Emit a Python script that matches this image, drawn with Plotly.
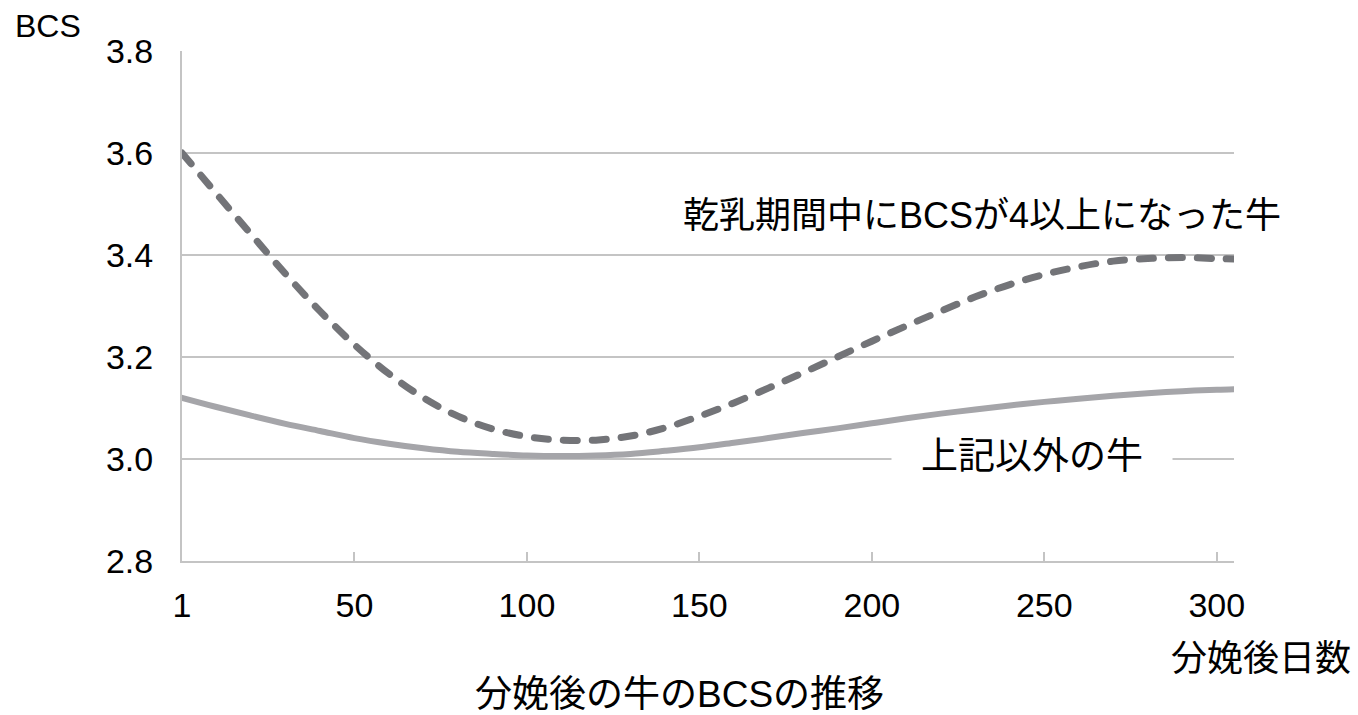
import plotly.graph_objects as go

# Days after calving (first tick is day 1)
days = [0, 10, 20, 30, 40, 50, 60, 70, 80, 90, 100, 110, 120, 130, 140, 150,
        160, 170, 180, 190, 200, 210, 220, 230, 240, 250, 260, 270, 280, 290, 300, 305]

# Cows whose BCS reached 4 or more during the dry period
bcs_high_dry = [3.600, 3.520, 3.441, 3.363, 3.290, 3.224, 3.167, 3.120, 3.084, 3.059,
                3.044, 3.037, 3.037, 3.045, 3.061, 3.084, 3.110, 3.139, 3.169, 3.200,
                3.231, 3.261, 3.290, 3.318, 3.342, 3.362, 3.377, 3.388, 3.393, 3.395,
                3.393, 3.392]

# All other cows
bcs_other = [3.120, 3.102, 3.085, 3.069, 3.055, 3.041, 3.030, 3.021, 3.014, 3.010,
             3.007, 3.006, 3.007, 3.010, 3.016, 3.023, 3.032, 3.041, 3.051, 3.060,
             3.070, 3.080, 3.089, 3.097, 3.105, 3.112, 3.118, 3.124, 3.129, 3.133,
             3.136, 3.137]

x_tickvals = [0, 50, 100, 150, 200, 250, 300]
x_ticktext = ["1", "50", "100", "150", "200", "250", "300"]
y_tickvals = [2.8, 3.0, 3.2, 3.4, 3.6, 3.8]
y_ticktext = ["2.8", "3.0", "3.2", "3.4", "3.6", "3.8"]

label_high = "乾乳期間中にBCSが4以上になった牛"
label_other = "上記以外の牛"
title_text = "分娩後の牛のBCSの推移"
x_title = "分娩後日数"
y_title = "BCS"

W, H = 1358, 715
L, R, T, B = 182, 124, 51, 154
PW, PH = W - L - R, H - T - B

FONT_LATIN = "Liberation Sans, Arial, Noto Sans CJK JP, sans-serif"
FONT_MIX = "Liberation Sans, Noto Sans CJK JP, sans-serif"
FONT_JP = "Noto Sans CJK JP, sans-serif"
GRID = "#c4c4c4"

fig = go.Figure()

fig.add_trace(go.Scatter(
    x=days, y=bcs_other, mode="lines",
    line=dict(color="#a5a5a9", width=6, shape="spline", smoothing=1.0),
    hoverinfo="skip", showlegend=False,
))
fig.add_trace(go.Scatter(
    x=days, y=bcs_high_dry, mode="lines",
    line=dict(color="#737478", width=7, shape="spline", smoothing=1.0, dash="14px,15px"),
    hoverinfo="skip", showlegend=False,
))

fig.update_layout(
    width=W, height=H,
    margin=dict(l=L, r=R, t=T, b=B, pad=0),
    paper_bgcolor="white", plot_bgcolor="white",
    showlegend=False,
    xaxis=dict(
        range=[0, 305], tickvals=x_tickvals, ticktext=x_ticktext,
        showgrid=False, zeroline=False,
        showline=True, linecolor=GRID, linewidth=2,
        ticks="inside", ticklen=9, tickwidth=2, tickcolor=GRID,
        ticklabelstandoff=13,
        tickfont=dict(family=FONT_LATIN, size=34, color="black"),
        fixedrange=True,
    ),
    yaxis=dict(
        range=[2.8, 3.8], tickvals=y_tickvals, ticktext=y_ticktext,
        showgrid=True, gridcolor=GRID, gridwidth=2, zeroline=False,
        showline=True, linecolor=GRID, linewidth=2,
        ticks="", ticklabelstandoff=20,
        tickfont=dict(family=FONT_LATIN, size=34, color="black"),
        fixedrange=True,
    ),
    annotations=[
        dict(text=y_title, xref="paper", yref="paper",
             x=(13 - L) / PW, y=(H - B - 26) / PH, xanchor="left", yanchor="middle",
             showarrow=False, font=dict(family=FONT_LATIN, size=32, color="black")),
        dict(text=x_title, xref="paper", yref="paper",
             x=(1353 - L) / PW, y=(H - B - 655) / PH, xanchor="right", yanchor="middle",
             showarrow=False, font=dict(family=FONT_JP, size=36, color="black")),
        dict(text=title_text, xref="paper", yref="paper",
             x=(679 - L) / PW, y=(H - B - 694) / PH, xanchor="center", yanchor="middle",
             showarrow=False, font=dict(family=FONT_MIX, size=37, color="black")),
        dict(text=label_high, xref="x", yref="y", x=232, y=3.478,
             xanchor="center", yanchor="middle", showarrow=False,
             font=dict(family=FONT_MIX, size=36, color="black")),
        dict(text=label_other, xref="x", yref="y", x=246.5, y=3.011,
             xanchor="center", yanchor="middle", showarrow=False,
             width=280, height=40, bgcolor="white", borderpad=0,
             font=dict(family=FONT_JP, size=37, color="black")),
    ],
)

# Rounded ends on the line strokes so the dashes render as capsules
round_caps = """
(function () {
  var gd = document.getElementById('{plot_id}');
  function applyCaps() {
    gd.querySelectorAll('.scatterlayer path.js-line').forEach(function (p) {
      p.setAttribute('stroke-linecap', 'round');
      p.style.strokeLinecap = 'round';
    });
  }
  applyCaps();
  if (gd.on) { gd.on('plotly_afterplot', applyCaps); }
  setTimeout(applyCaps, 0);
})();
"""

fig.write_html("out.html", post_script=round_caps)
